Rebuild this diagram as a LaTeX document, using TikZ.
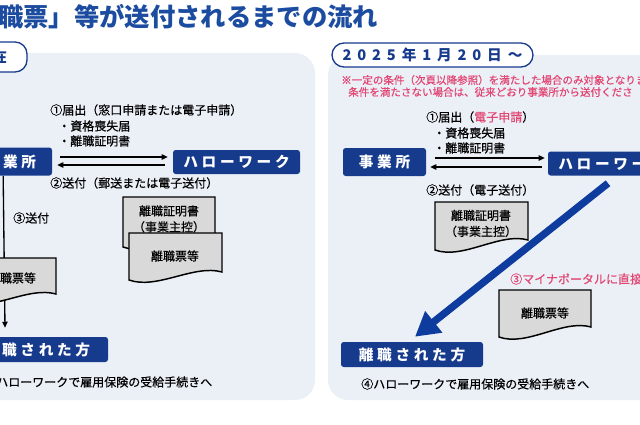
\documentclass[tikz,border=0pt]{standalone}
\usepackage{fontspec}
\setmainfont{Noto Sans CJK JP}
\newfontfamily\bodyfont{Noto Sans CJK JP}[FakeBold=0.5]
\usetikzlibrary{arrows.meta}
\definecolor{navy}{RGB}{22,58,140}
\definecolor{titleblue}{RGB}{28,76,160}
\definecolor{panelbg}{RGB}{235,240,247}
\definecolor{notepink}{RGB}{226,70,115}
\definecolor{docgray}{RGB}{217,217,217}
\definecolor{bigblue}{RGB}{14,60,158}

\begin{document}
\begin{tikzpicture}[x=0.75pt, y=-0.75pt,
    panel/.style={fill=panelbg, rounded corners=15pt},
    box/.style={fill=navy, rounded corners=2pt, text=white, inner sep=0pt,
        font=\bfseries\fontsize{11}{13}\selectfont\addfontfeature{LetterSpace=25}},
    pill/.style={draw=navy, line width=1pt, fill=white, rounded corners=9pt,
        text=navy, inner sep=0pt,
        font=\bfseries\fontsize{11}{13}\selectfont\addfontfeature{LetterSpace=40}},
    label/.style={font=\bodyfont\fontsize{9}{12}\selectfont, inner sep=0pt, anchor=west},
    note/.style={font=\bodyfont\fontsize{7.9}{10}\selectfont, text=notepink, inner sep=0pt, anchor=west},
    docshape/.style={fill=docgray, draw=black, line width=1.1pt},
    doctext/.style={font=\bodyfont\fontsize{9}{12}\selectfont, align=center, inner sep=0pt},
    edge/.style={line width=1pt, -{Triangle[length=4.5pt, width=4pt]}},
    bigedge/.style={draw=bigblue, line width=5.5pt, -{Triangle[length=18pt, width=19.5pt]}}
]
    \useasboundingbox (0,0) rectangle (640,425);
    \clip (0,0) rectangle (640,425);

    \node[anchor=west, inner sep=0pt, text=titleblue, font=\bfseries\fontsize{19}{21}\selectfont] (title) at (-2,17) {職票」等が送付されるまでの流れ};

    \fill[panel] (-30,53) rectangle (315,400);
    \fill[panel] (328,55) rectangle (680,400);

    \node[pill, minimum width=56.25pt, minimum height=22.5pt] (now1) at (-10.5,57) {現在};
    \node[pill, minimum width=150.75pt, minimum height=18pt] (now2) at (432.5,55) {2025年1月20日～};

    \node[note] (note1) at (341,80) {※一定の条件（次頁以降参照）を満たした場合のみ対象となりま};
    \node[note] (note2) at (348,92) {条件を満たさない場合は、従来どおり事業所から送付くださ};

    \node[box, minimum width=62.25pt, minimum height=21pt] (biz1) at (10.5,161.5) {事業所};
    \node[box, minimum width=95.25pt, minimum height=18pt] (hw1) at (236.5,162) {ハローワーク};
    \node[box, minimum width=106.5pt, minimum height=18.75pt] (leaver1) at (37,349.5) {離職された方};

    \node[box, minimum width=62.25pt, minimum height=21pt] (biz2) at (384.5,162) {事業所};
    \node[box, minimum width=95.25pt, minimum height=18pt] (hw2) at (611.5,163.5) {ハローワーク};
    \node[box, minimum width=106.5pt, minimum height=18.75pt] (leaver2) at (412,354.5) {離職された方};

    \node[label] (submit1) at (50,110) {①届出（窓口申請または電子申請）};
    \node[label] (loss1) at (58,126) {・資格喪失届};
    \node[label] (cert1) at (58,141) {・離職証明書};
    \node[label] (send1) at (50,183) {②送付（郵送または電子送付）};
    \node[label] (mail1) at (13,218) {③送付};
    \node[label] (after1) at (-16,382) {④ハローワークで雇用保険の受給手続きへ};

    \node[label] (submit2) at (426,117) {①届出（\textcolor{notepink}{電子申請}）};
    \node[label] (loss2) at (433,133) {・資格喪失届};
    \node[label] (cert2) at (433,148) {・離職証明書};
    \node[label] (send2) at (426,190) {②送付（電子送付）};
    \node[label, text=notepink] (portal) at (510,279) {③マイナポータルに直接};
    \node[label] (after2) at (361,384) {④ハローワークで雇用保険の受給手続きへ};

    \draw[edge] ([shift={(8,-4.5)}]biz1.east) -- ([shift={(-5,-5)}]hw1.west);
    \draw[edge] ([shift={(-8,3)}]hw1.west) -- ([shift={(5,3.5)}]biz1.east);
    \draw[edge] ([xshift=-5.5]biz1.south) -- ([shift={(-32,-9)}]leaver1.north);
    \draw[edge] ([shift={(9,-4)}]biz2.east) -- ([shift={(-3,-5.5)}]hw2.west);
    \draw[edge] ([shift={(-6,3.5)}]hw2.west) -- ([shift={(4,5)}]biz2.east);

    \draw[docshape] (-36,258) -- (56,258) -- (56,294) .. controls (28,286) and (-8,312) .. (-36,302) -- cycle;
    \node[doctext] (slip1) at (12,278) {離職票等};

    \draw[docshape] (123,197) -- (215,197) -- (215,238) .. controls (187,230) and (151,257) .. (123,247) -- cycle;
    \node[doctext] (copy1) at (169,219) {離職証明書\\（事業主控）};
    \draw[docshape] (129,233) -- (222,233) -- (222,272) .. controls (194,264) and (157,290) .. (129,280) -- cycle;
    \node[doctext] (slip2) at (175,256) {離職票等};

    \draw[docshape] (435,202) -- (528,202) -- (528,240) .. controls (500,232) and (463,260) .. (435,250) -- cycle;
    \node[doctext] (copy2) at (481,223.5) {離職証明書\\（事業主控）};
    \draw[docshape] (499,290) -- (591,290) -- (591,327) .. controls (563,319) and (527,347) .. (499,337) -- cycle;
    \node[doctext] (slip3) at (545,313) {離職票等};

    \draw[bigedge] ([shift={(-3.5,7.5)}]hw2.south) -- ([shift={(3,-5)}]leaver2.north);
\end{tikzpicture}
\end{document}
